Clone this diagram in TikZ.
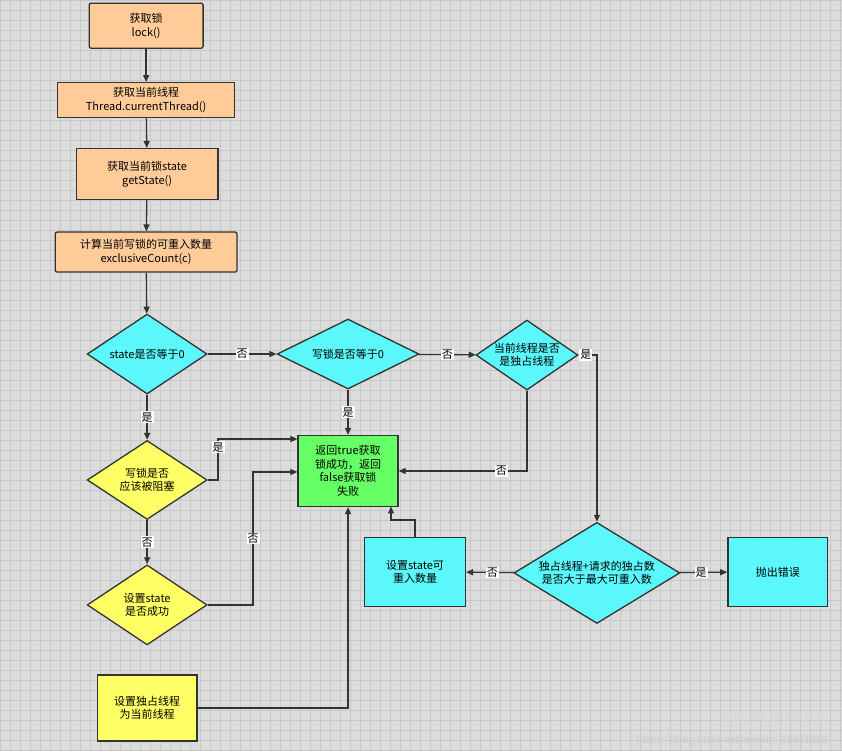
\documentclass[tikz,border=0pt]{standalone}
\usepackage{fontspec}
\setmainfont{Noto Sans CJK SC}
\usetikzlibrary{shapes.geometric}
\usetikzlibrary{arrows.meta}
\definecolor{bgGray}{HTML}{DCDCDC}
\definecolor{gridGray}{HTML}{C8C8C8}
\definecolor{orangeFill}{HTML}{FFCC99}
\definecolor{cyanFill}{HTML}{5CF7FA}
\definecolor{greenFill}{HTML}{66FF66}
\definecolor{yellowFill}{HTML}{FFFF66}
\definecolor{lineDark}{HTML}{333333}

\begin{document}
\begin{tikzpicture}[x=1pt,y=-1pt,
        font=\fontsize{11}{13.5}\selectfont,
        line width=1.3pt,
        flow/.style = {draw=lineDark,-{Triangle[length=7pt,width=6pt]}},
        orangeBox/.style = {draw=lineDark,fill=orangeFill,rounded corners=2pt,align=center,inner sep=0pt},
        cyanBox/.style = {draw=lineDark,fill=cyanFill,align=center,inner sep=0pt},
        decision/.style = {draw=lineDark,diamond,aspect=1.5,inner sep=0pt,align=center},
        edgeLabel/.style = {fill=white,inner sep=1pt,font=\fontsize{11}{12}\selectfont}
        ]
        \fill[bgGray] (0,0) rectangle (842,751);
        \foreach \gx in {0,10,...,840} \draw[gridGray,line width=0.4pt] (\gx,0) -- (\gx,751);
        \foreach \gy in {0,10,...,750} \draw[gridGray,line width=0.4pt] (0,\gy) -- (842,\gy);
        % top chain
        \node[orangeBox,minimum width=114pt,minimum height=45pt] (lock) at (146,25.5) {获取锁\\lock()};
        \node[orangeBox,rounded corners=0pt,minimum width=177pt,minimum height=35pt] (thread) at (146,100) {获取当前线程\\Thread.currentThread()};
        \node[orangeBox,rounded corners=0pt,minimum width=142pt,minimum height=51pt] (getState) at (147,174) {获取当前锁state\\getState()};
        \node[orangeBox,minimum width=182pt,minimum height=40pt] (count) at (146,252) {计算当前写锁的可重入数量\\exclusiveCount(c)};
        % decisions
        \node[decision,fill=cyanFill,minimum width=120pt,minimum height=80pt] (isZero) at (147,354) {state是否等于0};
        \node[decision,fill=cyanFill,minimum width=142pt,minimum height=70pt] (writeZero) at (348,354) {写锁是否等于0};
        \node[decision,fill=cyanFill,minimum width=102pt,minimum height=70pt] (isOwner) at (527,355) {当前线程是否\\是独占线程};
        \node[decision,fill=yellowFill,minimum width=120pt,minimum height=79pt] (blocked) at (147,480) {写锁是否\\应该被阻塞};
        \node[decision,fill=yellowFill,minimum width=120pt,minimum height=80pt] (casState) at (147,605) {设置state\\是否成功};
        \node[decision,fill=cyanFill,minimum width=166pt,minimum height=80pt] (overMax) at (597,573) {独占线程+请求的独占数\\是否大于最大可重入数};
        % boxes
        \node[draw=lineDark,fill=greenFill,align=center,minimum width=100pt,minimum height=71pt,inner sep=0pt] (result) at (348,471) {返回true获取\\锁成功，返回\\false获取锁\\失败};
        \node[draw=lineDark,fill=yellowFill,align=center,minimum width=100pt,minimum height=66pt] (setOwner) at (147,708) {设置独占线程\\为当前线程};
        \node[cyanBox,minimum width=101pt,minimum height=69pt] (setCount) at (415,572) {设置state可\\重入数量};
        \node[cyanBox,minimum width=100pt,minimum height=69pt] (throwErr) at (778,572) {抛出错误};
        % connectors
        \draw[flow] (lock) -- (thread);
        \draw[flow] (thread) -- (getState);
        \draw[flow] (getState) -- (count);
        \draw[flow] (count) -- (isZero);
        \draw[flow] (isZero) -- node[edgeLabel] {否} (writeZero);
        \draw[flow] (writeZero) -- node[edgeLabel] {否} (isOwner);
        \draw[flow] (isOwner.east) -- node[edgeLabel,pos=0.4] {是} (597,355) -- (overMax.north);
        \draw[flow] (isOwner.south) |- node[edgeLabel,pos=0.6] {否} (result.east);
        \draw[flow] (writeZero) -- node[edgeLabel] {是} (result);
        \draw[flow] (isZero) -- node[edgeLabel] {是} (blocked);
        \draw[flow] (blocked.east) -- (218,480) -- node[edgeLabel,pos=0.8] {是} (218,439) -- (result.west |- 0,439);
        \draw[flow] (blocked) -- node[edgeLabel] {否} (casState);
        \draw[flow] (casState.east) -- (253,605) -- node[edgeLabel,pos=0.5] {否} (253,472) -- (result.west |- 0,472);
        \draw[flow] (setOwner.east) -| (result.south);
        \draw[flow] (setCount.north) -- (415,520) -- (391,520) -- (391,506.5);
        \draw[flow] (overMax) -- node[edgeLabel,pos=0.45] {否} (setCount);
        \draw[flow] (overMax) -- node[edgeLabel,pos=0.45] {是} (throwErr);
        % watermark
        \node[text=white!85!black,anchor=east,font=\fontsize{12}{13}\selectfont] (mark) at (832,719) {@稀土掘金技术社区};
        \node[text=white!80!black,anchor=east,font=\fontsize{10.5}{11}\selectfont] (url) at (832,741) {https://blog.csdn.net/weixin\_38071259};
\end{tikzpicture}
\end{document}
